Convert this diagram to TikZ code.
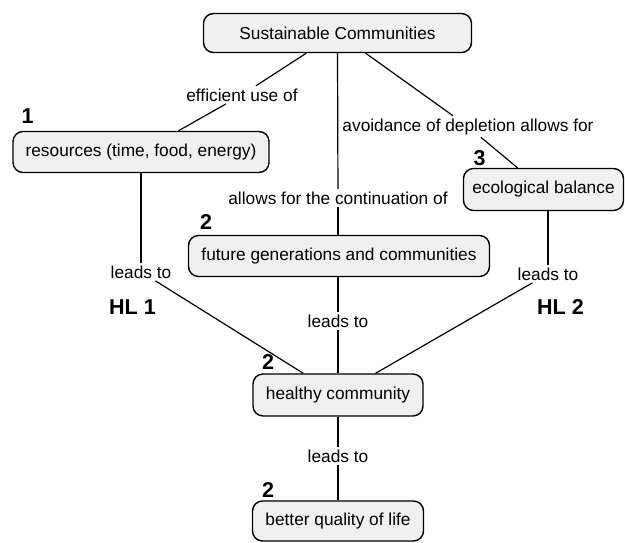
\documentclass[tikz,border=0pt]{standalone}
\usepackage{fontspec}
\setmainfont{Liberation Sans}
\definecolor{boxgray}{HTML}{F0F0F0}
\newcommand\fsz{\fontsize{17.3pt}{20pt}\selectfont}
\newcommand\fbz{\fontsize{21.5pt}{24pt}\selectfont\bfseries}
\begin{document}
\begin{tikzpicture}[x=1pt,y=-1pt,
  concept/.style={draw, line width=1.4pt, rounded corners=10pt, fill=boxgray, inner sep=0pt, font=\fsz},
  phrase/.style={inner sep=2.5pt, font=\fsz, anchor=base},
  num/.style={inner sep=0pt, font=\fbz},
  link/.style={line width=1.2pt}]
\useasboundingbox (0,0) rectangle (625,542);
% concepts
\node[concept, minimum width=268pt, minimum height=39pt] (sc) at (337.5,33) {Sustainable Communities};
\node[concept, minimum width=256pt, minimum height=41pt] (res) at (141,152) {resources (time, food, energy)};
\node[concept, minimum width=160pt, minimum height=42pt] (eco) at (543.5,189.5) {ecological balance};
\node[concept, minimum width=301pt, minimum height=41pt] (fut) at (339,256) {future generations and communities};
\node[concept, minimum width=170pt, minimum height=42pt] (hc) at (338,395) {healthy community};
\node[concept, minimum width=171pt, minimum height=40pt] (bq) at (338,521) {better quality of life};
% linking phrases
\node[phrase] (eff) at (242,101) {efficient use of};
\node[phrase] (avd) at (468,131) {avoidance of depletion allows for};
\node[phrase] (cont) at (338,204) {allows for the continuation of};
\node[phrase] (ll) at (141,278) {leads to};
\node[phrase] (rl) at (548,280) {leads to};
\node[phrase] (ml) at (338,327) {leads to};
\node[phrase] (bl) at (338,462) {leads to};
% numbers and labels
\node[num] (n1) at (27.5,116) {1};
\node[num] (n3) at (479.5,158.5) {3};
\node[num] (n2a) at (206,222) {2};
\node[num] (n2b) at (268,362) {2};
\node[num] (n2c) at (268,489.5) {2};
\node[num] (hl1) at (132.5,307) {HL 1};
\node[num] (hl2) at (560.5,307) {HL 2};
% connectors
\draw[link] (sc) -- (eff);
\draw[link] (eff) -- (res);
\draw[link] (sc) -- (avd);
\draw[link] (avd) -- (eco);
\draw[link] (sc.south) -- (cont);
\draw[link] (cont) -- (fut.north -| cont);
\draw[link] (res.south) -- (ll);
\draw[link] (ll) -- (hc);
\draw[link] (rl |- eco.south) -- (rl);
\draw[link] (rl) -- (hc);
\draw[link] (fut.south -| ml) -- (ml);
\draw[link] (ml) -- (hc);
\draw[link] (hc) -- (bl);
\draw[link] (bl) -- (bq);
\end{tikzpicture}
\end{document}
